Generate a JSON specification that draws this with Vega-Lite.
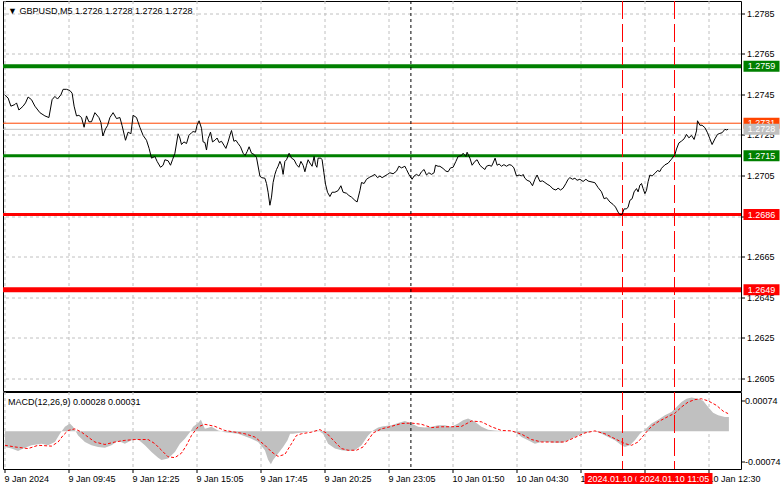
{
"$schema": "https://vega.github.io/schema/vega-lite/v6.json",
"padding": {"left": 0, "top": 0, "right": 0, "bottom": 0},
"background": "#ffffff",
"config": {
  "font": "Liberation Sans",
  "view": {"stroke": "#000000", "strokeWidth": 1},
  "axis": {"labelFont": "Liberation Sans", "labelFontSize": 9, "labelColor": "#000000", "gridColor": "#c0c0c0", "gridDash": [3, 3], "gridWidth": 1, "tickColor": "#000000", "tickWidth": 1, "domain": false, "labelPadding": 2, "translate": 0},
  "title": {"font": "Liberation Sans", "fontSize": 9, "fontWeight": "normal", "color": "#000000", "anchor": "start", "frame": "group"},
  "text": {"font": "Liberation Sans", "fontSize": 9}
},
"datasets": {
  "price": [
    {"i":0,"p":1.2745},{"i":1.8,"p":1.27434},{"i":3.2,"p":1.27394},{"i":5.2,"p":1.27402},{"i":6,"p":1.2741},{"i":7.2,"p":1.27375},{"i":9.3,"p":1.27394},{"i":10.5,"p":1.2741},{"i":11.8,"p":1.27439},{"i":13.5,"p":1.27426},{"i":15.2,"p":1.27394},{"i":17.7,"p":1.27362},{"i":20.2,"p":1.27346},{"i":22.2,"p":1.27338},{"i":23.8,"p":1.27426},{"i":25.2,"p":1.27442},{"i":26.5,"p":1.27429},{"i":28.2,"p":1.2745},{"i":29.3,"p":1.27477},{"i":31,"p":1.27477},{"i":32.7,"p":1.27471},{"i":33.8,"p":1.27458},{"i":34.8,"p":1.27394},{"i":36,"p":1.27346},{"i":37.2,"p":1.27349},{"i":38.5,"p":1.27338},{"i":39.8,"p":1.2729},{"i":41,"p":1.27346},{"i":42.2,"p":1.27317},{"i":43.5,"p":1.27317},{"i":45.2,"p":1.27362},{"i":47.2,"p":1.27338},{"i":48.2,"p":1.27314},{"i":49.2,"p":1.27247},{"i":50.5,"p":1.27282},{"i":51.5,"p":1.27298},{"i":52.7,"p":1.27338},{"i":54.3,"p":1.27362},{"i":56,"p":1.27333},{"i":57.7,"p":1.27338},{"i":58.8,"p":1.27298},{"i":60.5,"p":1.27226},{"i":61.8,"p":1.27266},{"i":63.2,"p":1.27258},{"i":64.3,"p":1.27349},{"i":66,"p":1.27338},{"i":67.7,"p":1.2729},{"i":69.3,"p":1.2725},{"i":71,"p":1.27226},
    {"i":72.3,"p":1.27186},{"i":73.5,"p":1.27138},{"i":75.2,"p":1.27146},{"i":76.3,"p":1.27122},{"i":78,"p":1.27093},{"i":79.3,"p":1.27103},{"i":80.2,"p":1.2713},{"i":81.8,"p":1.27125},{"i":83,"p":1.27103},{"i":84,"p":1.2713},{"i":85.2,"p":1.27162},{"i":86.8,"p":1.27258},{"i":87.7,"p":1.27237},{"i":88.5,"p":1.27205},{"i":89.7,"p":1.27218},{"i":91,"p":1.2721},{"i":92.2,"p":1.2725},{"i":93.5,"p":1.27263},{"i":94.3,"p":1.27269},{"i":95.5,"p":1.27266},{"i":96.3,"p":1.27301},{"i":97.3,"p":1.27322},{"i":98.5,"p":1.27285},{"i":99.3,"p":1.27218},{"i":100.2,"p":1.27215},{"i":101,"p":1.27178},{"i":101.8,"p":1.27234},{"i":103,"p":1.27266},{"i":104,"p":1.27218},{"i":105.2,"p":1.27226},{"i":106.3,"p":1.27237},{"i":107.3,"p":1.27215},{"i":108.5,"p":1.27221},{"i":109.7,"p":1.27202},{"i":110.7,"p":1.27186},{"i":111.8,"p":1.27218},{"i":112.7,"p":1.2725},{"i":113.5,"p":1.27274},{"i":114.7,"p":1.27221},{"i":115.7,"p":1.27226},{"i":116.8,"p":1.2721},{"i":118,"p":1.27194},{"i":119.3,"p":1.27162},{"i":120.3,"p":1.27151},{"i":121.3,"p":1.2717},{"i":122.3,"p":1.27194},{"i":123.5,"p":1.27162},{"i":124.7,"p":1.27157},{"i":126,"p":1.27141},{"i":127.7,"p":1.2705},{"i":128.5,"p":1.27042},{"i":130.2,"p":1.27039},{"i":131,"p":1.27013},{"i":131.8,"p":1.2697},{"i":132.7,"p":1.26906},{"i":133.5,"p":1.26946},{"i":134.3,"p":1.27018},{"i":135.2,"p":1.27058},{"i":136,"p":1.27082},{"i":136.8,"p":1.27098},{"i":137.7,"p":1.27122},{"i":138.5,"p":1.27103},{"i":139.3,"p":1.27058},{"i":140.2,"p":1.27122},{"i":141,"p":1.2713},{"i":142.3,"p":1.27162},{"i":143.5,"p":1.27138},
    {"i":144.8,"p":1.2713},{"i":146,"p":1.27106},{"i":147.2,"p":1.27093},{"i":148.2,"p":1.27122},{"i":149.3,"p":1.27103},{"i":150.2,"p":1.27071},{"i":151,"p":1.27103},{"i":151.8,"p":1.2713},{"i":152.7,"p":1.27114},{"i":153.8,"p":1.27098},{"i":154.8,"p":1.27146},{"i":155.5,"p":1.27106},{"i":156.2,"p":1.27093},{"i":156.8,"p":1.27138},{"i":158.2,"p":1.27138},{"i":158.8,"p":1.2713},{"i":159.7,"p":1.27066},{"i":160.5,"p":1.2701},{"i":161.5,"p":1.2697},{"i":162.7,"p":1.26949},{"i":163.8,"p":1.2697},{"i":165.2,"p":1.2697},{"i":166.8,"p":1.26978},{"i":168.2,"p":1.27002},{"i":169.3,"p":1.2697},{"i":171,"p":1.26965},{"i":172.2,"p":1.26954},{"i":173.5,"p":1.26946},{"i":175.2,"p":1.2693},{"i":176.3,"p":1.26922},{"i":177.7,"p":1.26978},{"i":178.5,"p":1.27018},{"i":179.8,"p":1.27013},{"i":181,"p":1.27034},{"i":182.7,"p":1.27045},{"i":183.8,"p":1.2705},{"i":185.2,"p":1.27058},{"i":186.5,"p":1.27042},{"i":187.7,"p":1.2705},{"i":188.8,"p":1.27042},{"i":190.2,"p":1.2705},{"i":191.5,"p":1.27058},{"i":192.7,"p":1.27066},{"i":194.3,"p":1.27061},{"i":196,"p":1.27074},{"i":197.2,"p":1.27098},{"i":198.5,"p":1.2709},{"i":200.2,"p":1.27098},{"i":201,"p":1.27082},{"i":202.2,"p":1.27058},{"i":203.8,"p":1.27034},{"i":204.8,"p":1.2705},{"i":206,"p":1.27058},{"i":207.2,"p":1.2705},{"i":208.5,"p":1.27071},{"i":209.8,"p":1.27082},{"i":211,"p":1.27055},{"i":212.2,"p":1.27066},{"i":213.5,"p":1.27058},{"i":214.8,"p":1.27066},{"i":215.5,"p":1.27103},{"i":216.8,"p":1.27098},
    {"i":217.7,"p":1.27098},{"i":219.3,"p":1.27087},{"i":220.7,"p":1.27074},{"i":221.8,"p":1.27071},{"i":223,"p":1.2709},{"i":224.3,"p":1.27093},{"i":225.7,"p":1.27122},{"i":226.8,"p":1.27146},{"i":228.5,"p":1.27151},{"i":229.3,"p":1.27162},{"i":230.7,"p":1.27146},{"i":231.3,"p":1.27167},{"i":232.7,"p":1.27138},{"i":233.8,"p":1.27103},{"i":235.2,"p":1.27122},{"i":236.3,"p":1.2713},{"i":237.7,"p":1.27103},{"i":238.8,"p":1.27093},{"i":240.2,"p":1.27082},{"i":241,"p":1.27098},{"i":242.3,"p":1.27103},{"i":243.5,"p":1.27098},{"i":244.3,"p":1.27114},{"i":245.3,"p":1.27138},{"i":246.3,"p":1.27103},{"i":247.3,"p":1.27109},{"i":248.5,"p":1.27098},{"i":249.7,"p":1.27106},{"i":251,"p":1.27098},{"i":252.3,"p":1.27106},{"i":253.5,"p":1.27103},{"i":254.7,"p":1.2709},{"i":256,"p":1.2705},{"i":257.3,"p":1.27055},{"i":258.5,"p":1.2705},{"i":259.3,"p":1.27058},{"i":260.2,"p":1.27039},{"i":261.3,"p":1.27029},{"i":262.7,"p":1.27023},{"i":264,"p":1.27002},{"i":265.2,"p":1.27034},{"i":266.3,"p":1.27055},{"i":267.7,"p":1.27023},{"i":269,"p":1.27026},{"i":270.2,"p":1.27018},{"i":271.3,"p":1.2701},{"i":272.7,"p":1.27002},{"i":274.3,"p":1.26986},{"i":275.7,"p":1.26981},{"i":276.8,"p":1.2699},{"i":278,"p":1.26981},{"i":279.3,"p":1.2699},{"i":280.7,"p":1.27013},{"i":281.8,"p":1.27034},{"i":282.7,"p":1.27042},{"i":284,"p":1.27034},{"i":285.2,"p":1.27039},{"i":286.3,"p":1.27029},{"i":287.7,"p":1.27034},{"i":289.3,"p":1.27023},{"i":290.7,"p":1.27034},
    {"i":291.8,"p":1.27025},{"i":295.2,"p":1.27017},{"i":296.8,"p":1.26993},{"i":298.5,"p":1.26972},{"i":299.8,"p":1.26938},{"i":301,"p":1.26943},{"i":302.7,"p":1.26922},{"i":304.3,"p":1.2691},{"i":305.5,"p":1.26897},{"i":306.8,"p":1.26872},{"i":307.7,"p":1.2686},{"i":308.8,"p":1.2686},{"i":309.8,"p":1.26888},{"i":311,"p":1.26888},{"i":311.8,"p":1.26897},{"i":312.7,"p":1.2693},{"i":313.8,"p":1.26938},{"i":314.8,"p":1.26972},{"i":316,"p":1.26988},{"i":316.8,"p":1.26972},{"i":317.7,"p":1.27005},{"i":318.5,"p":1.27013},{"i":319.3,"p":1.26988},{"i":320.2,"p":1.26963},{"i":321,"p":1.2698},{"i":321.8,"p":1.27022},{"i":322.7,"p":1.27055},{"i":323.8,"p":1.2705},{"i":325.2,"p":1.27063},{"i":326.5,"p":1.27077},{"i":327.7,"p":1.27072},{"i":328.5,"p":1.27088},{"i":330.2,"p":1.27105},{"i":331.8,"p":1.27113},{"i":333.5,"p":1.27133},{"i":335.2,"p":1.27155},{"i":336,"p":1.27183},{"i":337.2,"p":1.27213},{"i":338.5,"p":1.27222},{"i":339.8,"p":1.27233},{"i":341,"p":1.27255},{"i":342.2,"p":1.27238},{"i":343.5,"p":1.2725},{"i":344.8,"p":1.2723},{"i":346,"p":1.27272},{"i":346.5,"p":1.27322},{"i":347.7,"p":1.273},{"i":348.8,"p":1.273},{"i":350.2,"p":1.27288},{"i":351.5,"p":1.27263},{"i":352.7,"p":1.27233},{"i":353.8,"p":1.27205},{"i":355.2,"p":1.27233},{"i":356.5,"p":1.27255},{"i":357.7,"p":1.2726},{"i":358.8,"p":1.27263},{"i":360.2,"p":1.2728},{"i":361,"p":1.27277},{"i":361.8,"p":1.2728}
  ],
  "hist": [
    {"i":0.2,"m":-0.00038},{"i":3.5,"m":-0.00042},{"i":6.8,"m":-0.00048},{"i":9.3,"m":-0.00042},{"i":13.5,"m":-0.00034},{"i":18.5,"m":-0.0003},{"i":21.8,"m":-0.00034},{"i":25.2,"m":-0.00026},{"i":27.7,"m":-0.00006},{"i":30.2,"m":0.00011},{"i":32.7,"m":0.00019},{"i":34.3,"m":0.00011},{"i":36.8,"m":-0.0001},{"i":40.2,"m":-0.00026},{"i":43.5,"m":-0.00034},{"i":46.8,"m":-0.00038},{"i":50.2,"m":-0.0004},{"i":53.5,"m":-0.00034},{"i":56.8,"m":-0.00023},{"i":60.2,"m":-0.0003},{"i":63.5,"m":-0.00022},{"i":66.8,"m":-0.0002},{"i":70.2,"m":-0.00034},{"i":73.5,"m":-0.0005},{"i":76.8,"m":-0.00064},{"i":78.5,"m":-0.0007},{"i":81.8,"m":-0.00066},{"i":85.2,"m":-0.0005},{"i":87.7,"m":-0.0003},{"i":90.2,"m":-0.00018},{"i":92.7,"m":-0.00002},{"i":94.3,"m":0.00011},{"i":96.8,"m":0.0002},{"i":98.2,"m":0.00028},{"i":100.2,"m":0.00006},{"i":103.5,"m":0.00011},{"i":106.8,"m":0.00002},{"i":110.2,"m":-0.00002},{"i":113.5,"m":-0.00004},{"i":116.8,"m":-0.00006},{"i":120.2,"m":-0.00012},{"i":123.5,"m":-0.00018},{"i":126.8,"m":-0.00026},{"i":130.2,"m":-0.00046},{"i":131.8,"m":-0.00069},{"i":133.2,"m":-0.0008},{"i":134.3,"m":-0.0007},{"i":136.8,"m":-0.00054},{"i":139.3,"m":-0.00038},{"i":141.5,"m":-0.00022},{"i":142.8,"m":-0.00006},{"i":144.3,"m":-0.00006},{"i":146.8,"m":-0.00004},{"i":150.2,"m":-0.00002},{"i":153.5,"m":0.00001},{"i":156.8,"m":0.00002},{"i":159.3,"m":-0.00006},{"i":161.8,"m":-0.0003},{"i":165.2,"m":-0.00042},{"i":168.5,"m":-0.00046},{"i":171.8,"m":-0.00048},{"i":175.2,"m":-0.00046},{"i":178.5,"m":-0.00034},{"i":181.8,"m":-0.0001},{"i":184.3,"m":0.00002},{"i":186.8,"m":0.00009},{"i":189.3,"m":0.00012},{"i":193.5,"m":0.00015},{"i":196.8,"m":0.0002},{"i":200.2,"m":0.00025},{"i":203.5,"m":0.00019},{"i":206.8,"m":0.00011},{"i":210.2,"m":0.00009},{"i":213.5,"m":0.00011},{"i":216.8,"m":0.00015},{"i":220.2,"m":0.00015},{"i":223.5,"m":0.00011},{"i":226.8,"m":0.00019},{"i":229.3,"m":0.00027},{"i":231.8,"m":0.00031},{"i":235.2,"m":0.00023},{"i":238.5,"m":0.00011},{"i":241.8,"m":0.00004},{"i":245.2,"m":0.00002},{"i":248.5,"m":0.00001},{"i":253.5,"m":0},{"i":256,"m":-0.00004},{"i":258.5,"m":-0.00014},{"i":261.8,"m":-0.00022},{"i":265.2,"m":-0.0003},{"i":268.5,"m":-0.00026},{"i":271.8,"m":-0.00026},{"i":275.2,"m":-0.00028},{"i":278.5,"m":-0.00028},{"i":281.8,"m":-0.00022},{"i":285.2,"m":-0.00014},{"i":288.5,"m":-0.00006},{"i":291.8,"m":-0.00002},{"i":295.2,"m":0.00001},{"i":298.5,"m":-0.00006},{"i":301.8,"m":-0.00014},{"i":305.2,"m":-0.00022},{"i":308.5,"m":-0.00034},{"i":310.2,"m":-0.00038},{"i":312.7,"m":-0.00034},{"i":315.2,"m":-0.00022},{"i":317.7,"m":-0.00006},{"i":320.2,"m":0.00004},{"i":323.5,"m":0.00019},{"i":326.8,"m":0.00028},{"i":330.2,"m":0.00039},{"i":333.5,"m":0.00047},{"i":336,"m":0.00059},{"i":338.5,"m":0.00071},{"i":341,"m":0.00079},{"i":343.5,"m":0.00082},{"i":346.8,"m":0.00079},{"i":349.3,"m":0.00074},{"i":351.8,"m":0.00059},{"i":354.3,"m":0.00045},{"i":356.8,"m":0.00039},{"i":360.2,"m":0.00035},{"i":362.2,"m":0.00035}
  ],
  "signal": [
    {"i":0.2,"s":-0.00034},{"i":5.2,"s":-0.00038},{"i":11.8,"s":-0.00042},{"i":16.8,"s":-0.00034},{"i":23.5,"s":-0.00036},{"i":26.8,"s":-0.00026},{"i":29.3,"s":-0.0001},{"i":31.8,"s":0.00002},{"i":35.2,"s":0.00006},{"i":38.5,"s":-0.00002},{"i":41.8,"s":-0.00014},{"i":45.2,"s":-0.00026},{"i":50.2,"s":-0.00032},{"i":55.2,"s":-0.00026},{"i":60.2,"s":-0.00022},{"i":65.2,"s":-0.0002},{"i":71.8,"s":-0.0002},{"i":75.2,"s":-0.0003},{"i":78.5,"s":-0.00046},{"i":81.8,"s":-0.00062},{"i":85.2,"s":-0.00064},{"i":88.5,"s":-0.00053},{"i":91,"s":-0.00034},{"i":93.5,"s":-0.0001},{"i":96.8,"s":0.00011},{"i":100.2,"s":0.00017},{"i":105.2,"s":0.00012},{"i":110.2,"s":0.00002},{"i":115.2,"s":-0.00002},{"i":120.2,"s":-0.00006},{"i":125.2,"s":-0.00014},{"i":130.2,"s":-0.00034},{"i":133.5,"s":-0.0005},{"i":136.8,"s":-0.00061},{"i":140.2,"s":-0.00056},{"i":143.5,"s":-0.0003},{"i":146,"s":-0.0001},{"i":148.5,"s":-0.00006},{"i":153.5,"s":-0.00002},{"i":157.7,"s":0.00004},{"i":161,"s":-0.00004},{"i":165.2,"s":-0.00026},{"i":168.5,"s":-0.00042},{"i":171.8,"s":-0.00046},{"i":176,"s":-0.00046},{"i":179.3,"s":-0.00038},{"i":181.8,"s":-0.00022},{"i":184.3,"s":-0.00004},{"i":188.5,"s":0.00006},{"i":192.7,"s":0.00011},{"i":198.5,"s":0.00019},{"i":203.5,"s":0.0002},{"i":208.5,"s":0.00017},{"i":213.5,"s":0.00009},{"i":218.5,"s":0.00011},{"i":223.5,"s":0.00011},{"i":228.5,"s":0.00012},{"i":233.5,"s":0.00025},{"i":238.5,"s":0.00023},{"i":243.5,"s":0.00011},{"i":248.5,"s":0.00002},{"i":253.5,"s":0.00001},{"i":258.5,"s":-0.00007},{"i":263.5,"s":-0.0002},{"i":268.5,"s":-0.00026},{"i":275.2,"s":-0.00026},{"i":280.2,"s":-0.00026},{"i":285.2,"s":-0.00015},{"i":290.2,"s":-0.00004},{"i":295.2,"s":0.00001},{"i":300.2,"s":-0.00006},{"i":305.2,"s":-0.00018},{"i":310.2,"s":-0.0003},{"i":313.5,"s":-0.00034},{"i":316.8,"s":-0.00026},{"i":320.2,"s":-0.00006},{"i":323.5,"s":0.00012},{"i":326.8,"s":0.00023},{"i":331.8,"s":0.00036},{"i":335.2,"s":0.00044},{"i":338.5,"s":0.00059},{"i":341.8,"s":0.00071},{"i":345.2,"s":0.00077},{"i":348.5,"s":0.00079},{"i":351.8,"s":0.00074},{"i":356,"s":0.00063},{"i":359.3,"s":0.00049},{"i":361.8,"s":0.00043}
  ],
  "levels": [
    {"v":1.2759,"role":"target up"},{"v":1.2715,"role":"entry up"},{"v":1.2686,"role":"entry down"},{"v":1.2649,"role":"target down"},{"v":1.2731,"role":"ask"},{"v":1.2728,"role":"bid"}
  ],
  "vlines": [
    {"i":203.2,"kind":"day","label":""},{"i":309,"kind":"event","label":"2024.01.10 08:55"},{"i":335,"kind":"event","label":"2024.01.10 11:05"}
  ],
  "times": [
    {"i":0,"t":"9 Jan 2024"},{"i":32,"t":"9 Jan 09:45"},{"i":64,"t":"9 Jan 12:25"},{"i":96,"t":"9 Jan 15:05"},{"i":128,"t":"9 Jan 17:45"},{"i":160,"t":"9 Jan 20:25"},{"i":192,"t":"9 Jan 23:05"},{"i":224,"t":"10 Jan 01:50"},{"i":256,"t":"10 Jan 04:30"},{"i":288,"t":"10 Jan 07:10"},{"i":320,"t":"10 Jan 09:50"},{"i":352,"t":"10 Jan 12:30"}
  ]
},
"columns": 2,
"spacing": {"row": 1, "column": 0},
"bounds": "flush",
"concat": [
  {
    "width": 738,
    "height": 390,
    "title": {"text": "▼ GBPUSD,M5  1.2726 1.2728 1.2726 1.2728", "offset": -19, "baseline": "middle", "dx": 5},
    "layer": [
      {
        "data": {"name": "levels"},
        "mark": {"type": "rule"},
        "encoding": {
          "y": {"field": "v", "type": "quantitative", "scale": {"domain": [1.25991, 1.27912], "nice": false, "zero": false},
                "axis": {"orient": "right", "title": null, "values": [1.2605, 1.2625, 1.2645, 1.2665, 1.2685, 1.2705, 1.2725, 1.2745, 1.2765, 1.2785], "format": ".4f", "grid": true, "ticks": true, "tickSize": 4, "labelPadding": 2, "labelOverlap": false}},
          "color": {"field": "role", "type": "nominal", "legend": null, "scale": {"domain": ["target up", "entry up", "entry down", "target down", "ask", "bid"], "range": ["#008000", "#008000", "#ff0000", "#ff0000", "#ff4500", "#c0c0c0"]}},
          "strokeWidth": {"field": "role", "type": "nominal", "legend": null, "scale": {"type": "ordinal", "domain": ["target up", "entry up", "entry down", "target down", "ask", "bid"], "range": [4, 3, 3, 5, 1, 1]}}
        }
      },
      {
        "data": {"name": "vlines"},
        "transform": [{"filter": "datum.kind === 'day'"}],
        "mark": {"type": "rule", "strokeWidth": 1, "color": "#000000", "strokeDash": [3, 3]},
        "encoding": {
          "x": {"field": "i", "type": "quantitative", "scale": {"domain": [-0.75, 368.25], "nice": false, "zero": false},
                "axis": {"title": null, "values": [0, 16, 32, 48, 64, 80, 96, 112, 128, 144, 160, 176, 192, 208, 224, 240, 256, 272, 288, 304, 320, 336, 352, 368], "grid": true, "ticks": false, "labels": false}}
        }
      },
      {
        "data": {"name": "vlines"},
        "transform": [{"filter": "datum.kind === 'event'"}],
        "mark": {"type": "rule", "strokeWidth": 1, "color": "#ff0000", "strokeDash": [18, 5]},
        "encoding": {
          "x": {"field": "i", "type": "quantitative", "axis": {"title": null}}
        }
      },
      {
        "data": {"name": "price"},
        "mark": {"type": "line", "color": "#000000", "strokeWidth": 1},
        "encoding": {
          "x": {"field": "i", "type": "quantitative", "axis": {"title": null}},
          "y": {"field": "p", "type": "quantitative", "axis": {"title": null}}
        }
      }
    ]
  },
  {
    "width": 41,
    "height": 390,
    "view": {"stroke": null},
    "data": {"name": "levels"},
    "layer": [
      {
        "transform": [{"filter": "datum.role !== 'bid'"}],
        "mark": {"type": "tick", "orient": "horizontal", "thickness": 11, "size": 36, "opacity": 1},
        "encoding": {
          "y": {"field": "v", "type": "quantitative", "scale": {"domain": [1.25991, 1.27912], "nice": false, "zero": false}, "axis": null},
          "color": {"field": "role", "type": "nominal", "legend": null, "scale": {"domain": ["target up", "entry up", "entry down", "target down", "ask", "bid"], "range": ["#008000", "#008000", "#ff0000", "#ff0000", "#ff4500", "#000000"]}}
        }
      },
      {
        "transform": [{"filter": "datum.role !== 'bid'"}],
        "mark": {"type": "text", "color": "#ffffff", "align": "center", "baseline": "middle", "fontSize": 9},
        "encoding": {
          "y": {"field": "v", "type": "quantitative", "axis": null},
          "text": {"field": "v", "type": "quantitative", "format": ".4f"}
        }
      },
      {
        "transform": [{"filter": "datum.role === 'bid'"}],
        "mark": {"type": "tick", "orient": "horizontal", "thickness": 11, "size": 36, "opacity": 1},
        "encoding": {
          "y": {"field": "v", "type": "quantitative", "axis": null},
          "color": {"field": "role", "type": "nominal", "legend": null}
        }
      },
      {
        "transform": [{"filter": "datum.role === 'bid'"}],
        "mark": {"type": "text", "color": "#ffffff", "align": "center", "baseline": "middle", "fontSize": 9},
        "encoding": {
          "y": {"field": "v", "type": "quantitative", "axis": null},
          "text": {"field": "v", "type": "quantitative", "format": ".4f"}
        }
      }
    ]
  },
  {
    "width": 738,
    "height": 77,
    "title": {"text": "MACD(12,26,9) 0.00028 0.00031", "offset": -19, "baseline": "middle", "dx": 5},
    "layer": [
      {
        "data": {"name": "hist"},
        "mark": {"type": "area", "color": "#c0c0c0", "opacity": 1},
        "encoding": {
          "x": {"field": "i", "type": "quantitative", "scale": {"domain": [-0.75, 368.25], "nice": false, "zero": false},
                "axis": {"title": null, "values": [0, 16, 32, 48, 64, 80, 96, 112, 128, 144, 160, 176, 192, 208, 224, 240, 256, 272, 288, 304, 320, 336, 352, 368], "grid": true, "ticks": true, "tickSize": 4, "labels": false,
                         "tickOpacity": {"condition": {"test": "datum.value % 32 === 0", "value": 1}, "value": 0}}},
          "y": {"field": "m", "type": "quantitative", "stack": null, "scale": {"domain": [-0.000916, 0.000955], "nice": false, "zero": false},
                "axis": {"orient": "right", "title": null, "values": [-0.00074, 0, 0.00074], "grid": true, "tickSize": 4, "labelPadding": 0, "labelOverlap": false,
                         "gridOpacity": {"condition": {"test": "datum.value === 0", "value": 1}, "value": 0},
                         "labelExpr": "datum.value === 0 ? '0.00' : (datum.value < 0 ? '-' : '') + format(abs(datum.value), '.5f')"}},
          "y2": {"datum": 0}
        }
      },
      {
        "data": {"name": "vlines"},
        "transform": [{"filter": "datum.kind === 'day'"}],
        "mark": {"type": "rule", "strokeWidth": 1, "color": "#000000", "strokeDash": [3, 3]},
        "encoding": {
          "x": {"field": "i", "type": "quantitative", "axis": {"title": null}}
        }
      },
      {
        "data": {"name": "vlines"},
        "transform": [{"filter": "datum.kind === 'event'"}],
        "mark": {"type": "rule", "strokeWidth": 1, "color": "#ff0000", "strokeDash": [18, 5]},
        "encoding": {
          "x": {"field": "i", "type": "quantitative", "axis": {"title": null}}
        }
      },
      {
        "data": {"name": "signal"},
        "mark": {"type": "line", "color": "#ff0000", "strokeWidth": 1, "strokeDash": [3, 2]},
        "encoding": {
          "x": {"field": "i", "type": "quantitative", "axis": {"title": null}},
          "y": {"field": "s", "type": "quantitative", "axis": {"title": null}}
        }
      }
    ]
  },
  {
    "width": 41,
    "height": 77,
    "view": {"stroke": null},
    "data": {"values": []},
    "mark": {"type": "text"},
    "encoding": {}
  },
  {
    "width": 738,
    "height": 17,
    "view": {"stroke": null},
    "layer": [
      {
        "data": {"name": "times"},
        "mark": {"type": "text", "align": "left", "baseline": "middle", "color": "#000000", "fontSize": 9},
        "encoding": {
          "x": {"field": "i", "type": "quantitative", "scale": {"domain": [-0.75, 368.25], "nice": false, "zero": false}, "axis": null},
          "text": {"field": "t", "type": "nominal"}
        }
      },
      {
        "data": {"name": "vlines"},
        "transform": [{"filter": "datum.i === 309"}],
        "mark": {"type": "tick", "orient": "vertical", "thickness": 76, "size": 11, "color": "#ff0000", "opacity": 1},
        "encoding": {"x": {"field": "i", "type": "quantitative", "axis": null}}
      },
      {
        "data": {"name": "vlines"},
        "transform": [{"filter": "datum.i === 309"}],
        "mark": {"type": "text", "align": "center", "baseline": "middle", "color": "#ffffff", "fontSize": 9},
        "encoding": {"x": {"field": "i", "type": "quantitative", "axis": null}, "text": {"field": "label", "type": "nominal"}}
      },
      {
        "data": {"name": "vlines"},
        "transform": [{"filter": "datum.i === 335"}],
        "mark": {"type": "tick", "orient": "vertical", "thickness": 76, "size": 11, "color": "#ff0000", "opacity": 1},
        "encoding": {"x": {"field": "i", "type": "quantitative", "axis": null}}
      },
      {
        "data": {"name": "vlines"},
        "transform": [{"filter": "datum.i === 335"}],
        "mark": {"type": "text", "align": "center", "baseline": "middle", "color": "#ffffff", "fontSize": 9},
        "encoding": {"x": {"field": "i", "type": "quantitative", "axis": null}, "text": {"field": "label", "type": "nominal"}}
      }
    ]
  }
]
}
